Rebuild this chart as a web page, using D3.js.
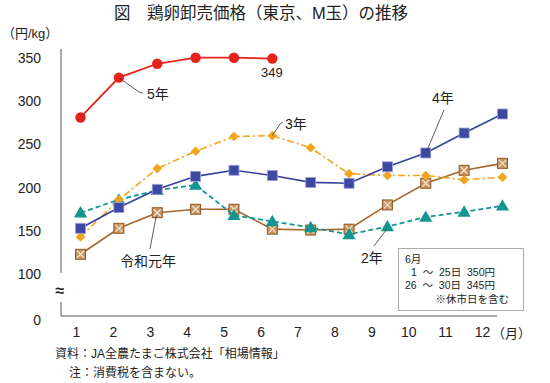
<!DOCTYPE html>
<html>
<head>
<meta charset="utf-8">
<script src="https://cdn.jsdelivr.net/npm/d3@7"></script>
<style>
  body { margin: 0; background: #fff; }
  text { font-family: "Liberation Sans", "Noto Sans CJK JP", sans-serif; fill: #222; white-space: pre; }
</style>
</head>
<body>
<div class="graph-goes-here"></div>
<script>
// monthly prices, yen/kg
var months = [1, 2, 3, 4, 5, 6, 7, 8, 9, 10, 11, 12];
var reiwa5 = [281, 327, 343, 350, 350, 349];
var reiwa4 = [153, 177, 198, 213, 220, 214, 206, 205, 224, 240, 263, 285];
var reiwa3 = [143, 186, 222, 242, 259, 260, 246, 216, 214, 214, 209, 212];
var reiwa2 = [171, 186, 197, 203, 168, 161, 154, 146, 155, 166, 172, 179];
var reiwa1 = [123, 153, 171, 175, 175, 152, 151, 152, 180, 205, 220, 228];
var yTicks = [100, 150, 200, 250, 300, 350];

var width = 550, height = 383;

var svg = d3.select(".graph-goes-here")
    .append("svg")
    .attr("width", width)
    .attr("height", height);

var xScale = d3.scaleLinear().domain([1, 12]).range([80.5, 502.5]);
var xLabelScale = d3.scaleLinear().domain([1, 12]).range([76, 482]);
var yScale = d3.scaleLinear().domain([100, 350]).range([274.2, 57.7]);

var axisX = 61, axisBottom = 316;

// title
svg.append("text")
    .attr("x", 261).attr("y", 19)
    .attr("text-anchor", "middle")
    .style("font-size", "16.5px")
    .text("図　鶏卵卸売価格（東京、M玉）の推移");

svg.append("text")
    .attr("x", 2).attr("y", 38)
    .style("font-size", "13px")
    .text("（円/kg）");

// axis lines with break
svg.append("line").attr("x1", axisX).attr("x2", axisX).attr("y1", 49).attr("y2", 273)
    .attr("stroke", "#555").attr("stroke-width", 1);
svg.append("path")
    .attr("d", "M" + axisX + ",302 V" + axisBottom + " H497")
    .attr("fill", "none").attr("stroke", "#555").attr("stroke-width", 1);
svg.append("text")
    .attr("x", axisX - 1).attr("y", 296)
    .attr("text-anchor", "middle")
    .style("font-size", "16px").style("font-weight", "bold")
    .text("≈");

var yAxis = svg.append("g")
    .attr("transform", "translate(" + axisX + ",0)")
    .call(d3.axisLeft(yScale).tickValues(yTicks).tickSize(0).tickPadding(20));
yAxis.select(".domain").remove();
yAxis.selectAll("text").style("font-size", "14px").attr("fill", "#222");

svg.append("text")
    .attr("x", 41).attr("y", 325)
    .attr("text-anchor", "end")
    .style("font-size", "14px")
    .text("0");

var xAxis = svg.append("g")
    .attr("transform", "translate(0," + axisBottom + ")")
    .call(d3.axisBottom(xLabelScale).tickValues(months).tickFormat(d3.format("d")).tickSize(0).tickPadding(11));
xAxis.select(".domain").remove();
xAxis.selectAll("text").style("font-size", "14px").attr("fill", "#222");

svg.append("text")
    .attr("x", 492).attr("y", 338)
    .style("font-size", "13px")
    .text("（月）");

// series
var line = d3.line()
    .x(function (d, i) { return xScale(months[i]) })
    .y(function (d) { return yScale(d) });

function drawSeries(values, color, dash, width) {
    svg.append("path")
        .datum(values)
        .attr("fill", "none")
        .attr("stroke", color)
        .attr("stroke-width", width)
        .attr("stroke-dasharray", dash)
        .attr("d", line);
}

function pts(values) {
    return values.map(function (v, i) { return [xScale(months[i]), yScale(v)] });
}

// 令和元年 (brown, crossed squares)
drawSeries(reiwa1, "#a4672c", null, 1.6);
var brownMarks = svg.append("g").selectAll("g").data(pts(reiwa1)).join("g")
    .attr("transform", function (d) { return "translate(" + d[0] + "," + d[1] + ")" });
brownMarks.append("rect")
    .attr("x", -5).attr("y", -5).attr("width", 10).attr("height", 10)
    .attr("fill", "#c89560").attr("stroke", "#8e5a26").attr("stroke-width", 1);
brownMarks.append("path")
    .attr("d", "M-3.5,-3.5L3.5,3.5M3.5,-3.5L-3.5,3.5")
    .attr("stroke", "#f3e6d4").attr("stroke-width", 1.2);

// 2年 (teal, dashed, triangles)
drawSeries(reiwa2, "#15958f", "5,3", 1.8);
svg.append("g").selectAll("path").data(pts(reiwa2)).join("path")
    .attr("transform", function (d) { return "translate(" + d[0] + "," + (d[1] + 1) + ")" })
    .attr("d", d3.symbol().type(d3.symbolTriangle).size(75))
    .attr("fill", "#15958f");

// 3年 (orange, dash-dot, diamonds)
drawSeries(reiwa3, "#f2a51c", "7,3,2,3", 1.6);
svg.append("g").selectAll("path").data(pts(reiwa3)).join("path")
    .attr("transform", function (d) { return "translate(" + d[0] + "," + d[1] + ")" })
    .attr("d", d3.symbol().type(d3.symbolDiamond2).size(60))
    .attr("fill", "#f2a51c");

// 4年 (blue, squares)
drawSeries(reiwa4, "#36419b", null, 1.6);
svg.append("g").selectAll("rect").data(pts(reiwa4)).join("rect")
    .attr("x", function (d) { return d[0] - 5 })
    .attr("y", function (d) { return d[1] - 5 })
    .attr("width", 10).attr("height", 10)
    .attr("fill", "#3d48a3").attr("stroke", "#9aa0d4").attr("stroke-width", 0.8);

// 5年 (red, circles)
drawSeries(reiwa5, "#e5231b", null, 1.8);
svg.append("g").selectAll("circle").data(pts(reiwa5)).join("circle")
    .attr("cx", function (d) { return d[0] })
    .attr("cy", function (d) { return d[1] })
    .attr("r", 5.2)
    .attr("fill", "#e5231b");

// labels and leader lines
function leader(x1, y1, x2, y2) {
    svg.append("line")
        .attr("x1", x1).attr("y1", y1).attr("x2", x2).attr("y2", y2)
        .attr("stroke", "#333").attr("stroke-width", 0.8);
}
function label(x, y, txt, size) {
    svg.append("text").attr("x", x).attr("y", y)
        .style("font-size", (size || 14) + "px").text(txt);
}

leader(xScale(2), yScale(reiwa5[1]), 139, 92);
leader(139, 92, 143, 93);
label(147, 99, "5年");

label(261, 77, "349", 13);

leader(xScale(6), yScale(reiwa3[5]), 280, 124);
leader(280, 124, 283, 122);
label(285, 129, "3年");

leader(xScale(10) + 1, yScale(reiwa4[9]) - 2, 444, 110);
label(432, 103, "4年");

leader(xScale(3) - 1, yScale(reiwa1[2]) + 3, 150, 249);
label(120, 266, "令和元年");

leader(xScale(9) - 1, yScale(reiwa2[8]) + 3, 374, 246);
label(361, 263, "2年");

// note box
svg.append("rect")
    .attr("x", 398.5).attr("y", 248.5).attr("width", 125).attr("height", 62)
    .attr("fill", "#fff").attr("stroke", "#aaa").attr("stroke-width", 1);
var noteLines = [
    { x: 405, y: 263, t: "6月", anchor: "start" },
    { x: 411, y: 276, t: "1  ～  25日  350円", anchor: "start" },
    { x: 405, y: 289, t: "26  ～  30日  345円", anchor: "start" },
    { x: 509, y: 303, t: "※休市日を含む", anchor: "end" }
];
svg.append("g").selectAll("text").data(noteLines).join("text")
    .attr("x", function (d) { return d.x })
    .attr("y", function (d) { return d.y })
    .attr("text-anchor", function (d) { return d.anchor })
    .style("font-size", "10.5px")
    .text(function (d) { return d.t });

// footer
label(55, 358, "資料：JA全農たまご株式会社「相場情報」", 12);
label(69, 377, "注：消費税を含まない。", 12);
</script>
</body>
</html>
